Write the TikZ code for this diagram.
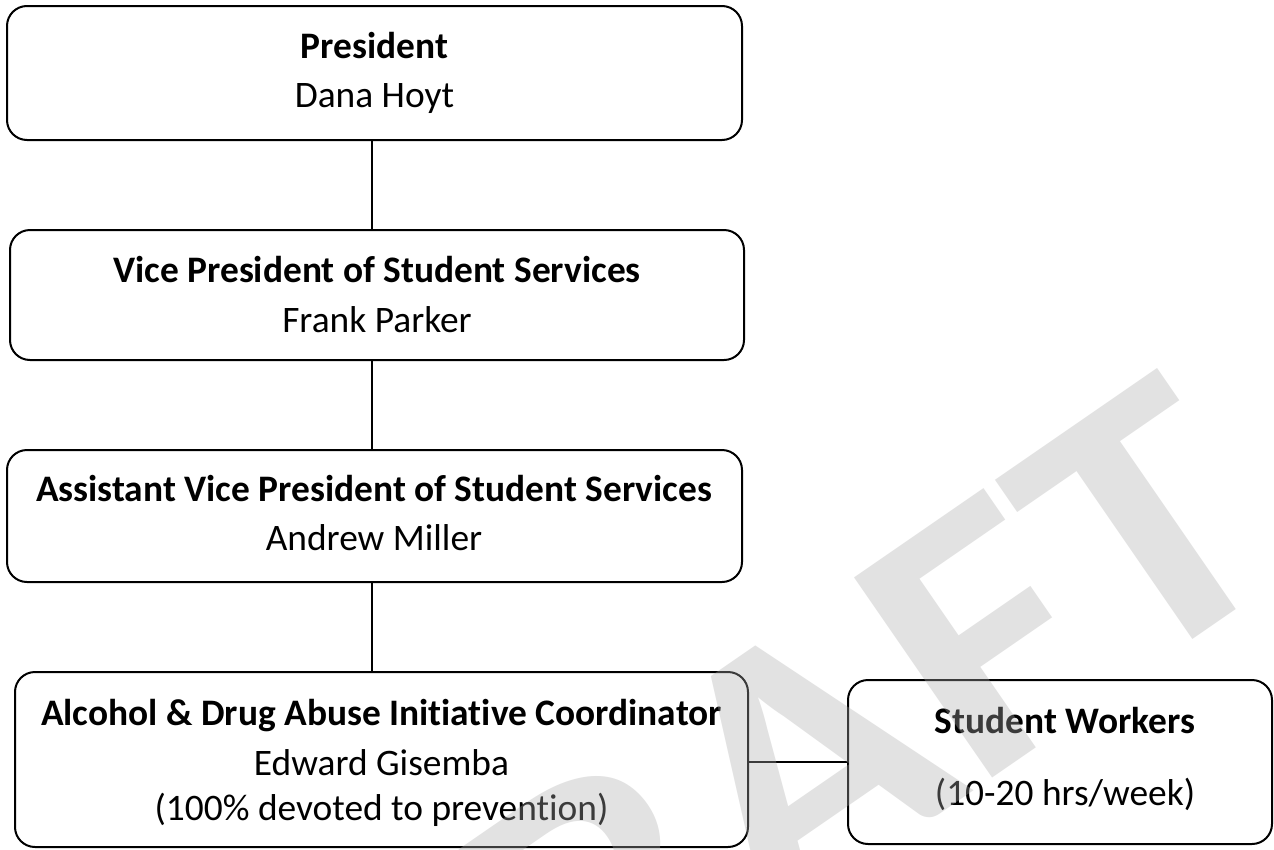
\documentclass[tikz,border=0pt]{standalone}
\usepackage{fontspec}
\setmainfont{Carlito}[Ligatures=NoCommon]
\definecolor{wmgray}{gray}{0.67}
\begin{document}
\begin{tikzpicture}[x=1pt,y=-1pt,
  box/.style={draw=black, line width=2pt, rounded corners=20pt, inner sep=0pt},
  head/.style={anchor=base, inner sep=0pt, font=\fontsize{37.4}{46}\selectfont\bfseries},
  sub/.style={anchor=base, inner sep=0pt, font=\fontsize{37.4}{46}\selectfont},
  link/.style={draw=black, line width=1.8pt},
  watermark/.style={anchor=base, inner sep=0pt, text=wmgray, text opacity=0.345,
    font=\fontsize{375}{380}\selectfont\bfseries}]
\useasboundingbox (0,0) rectangle (1274,849);
\clip (0,0) rectangle (1274,849);
\fill[white] (0,0) rectangle (1274,849);
\coordinate (spine) at (372,0);
% boxes
\node[box, minimum width=735pt, minimum height=134pt] (b1) at (374.5,73) {};
\node[box, minimum width=734pt, minimum height=130pt] (b2) at (377,295) {};
\node[box, minimum width=735pt, minimum height=132pt] (b3) at (374.5,516) {};
\node[box, minimum width=733pt, minimum height=175pt] (b4) at (381.5,759.5) {};
\node[box, minimum width=424pt, minimum height=164pt] (b5) at (1060,762) {};
% texts
\node[head] (t1a) at (374.5,58) {President};
\node[sub]  (t1b) at (374.5,107) {Dana Hoyt};
\node[head] (t2a) at (377,282) {Vice President of Student Services};
\node[sub]  (t2b) at (377,332) {Frank Parker};
\node[head] (t3a) at (374,501) {Assistant Vice President of Student Services};
\node[sub]  (t3b) at (374,550) {Andrew Miller};
\node[head] (t4a) at (381.5,725) {Alcohol \& Drug Abuse Initiative Coordinator};
\node[sub]  (t4b) at (381.5,775) {Edward Gisemba};
\node[sub]  (t4c) at (381.5,820) {(100\% devoted to prevention)};
\node[head] (t5a) at (1065,733) {Student Workers};
\node[sub]  (t5b) at (1065,805) {(10-20 hrs/week)};
% connectors
\draw[link] (b1.south -| spine) -- (b2.north -| spine);
\draw[link] (b2.south -| spine) -- (b3.north -| spine);
\draw[link] (b3.south -| spine) -- (b4.north -| spine);
\coordinate (hy) at (0,762);
\draw[link] (b4.east |- hy) -- (b5.west |- hy);
% watermark
\node[watermark, rotate=34.6, xscale=1.1] (wm) at (831,889) {DRAFT};
\end{tikzpicture}
\end{document}
